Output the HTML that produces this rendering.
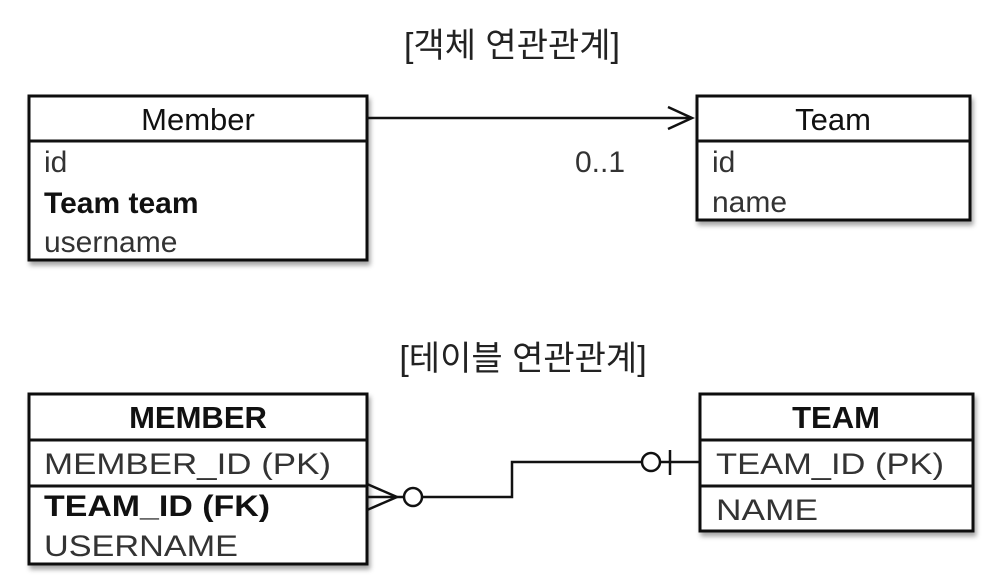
<!DOCTYPE html>
<html><head><meta charset="utf-8"><style>body{margin:0;background:#fff}svg{display:block}</style></head><body>
<svg width="985" height="581" xmlns="http://www.w3.org/2000/svg" font-family="Liberation Sans, Noto Sans CJK KR, sans-serif">
<defs><filter id="s" x="-5%" y="-5%" width="115%" height="120%"><feDropShadow dx="2" dy="4" stdDeviation="2.5" flood-color="#000" flood-opacity="0.35"/></filter></defs>
<text x="512" y="57" font-size="34" text-anchor="middle" fill="#222">[객체 연관관계]</text>
<text x="523" y="370" font-size="34" text-anchor="middle" fill="#222">[테이블 연관관계]</text>
<g stroke="#111" stroke-width="3" fill="#fff">
<rect x="29" y="96" width="338" height="164" filter="url(#s)"/>
<line x1="29" y1="141" x2="367" y2="141"/>
<rect x="697" y="96" width="273" height="124" filter="url(#s)"/>
<line x1="697" y1="141" x2="970" y2="141"/>
<rect x="29" y="394" width="338" height="170" filter="url(#s)"/>
<line x1="29" y1="440" x2="367" y2="440"/>
<line x1="29" y1="486" x2="367" y2="486"/>
<rect x="700" y="394" width="273" height="137" filter="url(#s)"/>
<line x1="700" y1="440" x2="973" y2="440"/>
<line x1="700" y1="486" x2="973" y2="486"/>
</g>
<g stroke="#111" stroke-width="2.5" fill="none">
<line x1="367" y1="118" x2="692" y2="118"/>
<polyline points="668,107 692,118 668,129"/>
<polyline points="367,484 397,497 367,510"/>
<line x1="367" y1="497" x2="403" y2="497"/>
<circle cx="413" cy="497" r="9" fill="#fff"/>
<polyline points="422,497 512,497 512,462 642,462"/>
<circle cx="651" cy="462" r="9" fill="#fff"/>
<line x1="660" y1="462" x2="700" y2="462"/>
<line x1="670" y1="450" x2="670" y2="475"/>
</g>
<g font-size="31" fill="#111">
<text x="198" y="130" text-anchor="middle">Member</text>
<text x="833" y="130" text-anchor="middle">Team</text>
<text x="198" y="428" text-anchor="middle" font-weight="bold">MEMBER</text>
<text x="836" y="428" text-anchor="middle" font-weight="bold">TEAM</text>
</g>
<g font-size="30" fill="#333">
<text x="44" y="172">id</text>
<text x="44" y="213" font-weight="bold" fill="#111">Team team</text>
<text x="44" y="252">username</text>
<text x="712" y="172">id</text>
<text x="712" y="212">name</text>
<text x="575" y="172">0..1</text>
<text x="44" y="474" textLength="287" lengthAdjust="spacingAndGlyphs">MEMBER_ID (PK)</text>
<text x="44" y="516" font-weight="bold" fill="#111" textLength="226" lengthAdjust="spacingAndGlyphs">TEAM_ID (FK)</text>
<text x="44" y="556" textLength="194" lengthAdjust="spacingAndGlyphs">USERNAME</text>
<text x="716" y="474" textLength="228" lengthAdjust="spacingAndGlyphs">TEAM_ID (PK)</text>
<text x="716" y="520" textLength="102" lengthAdjust="spacingAndGlyphs">NAME</text>
</g>
</svg>
</body></html>
